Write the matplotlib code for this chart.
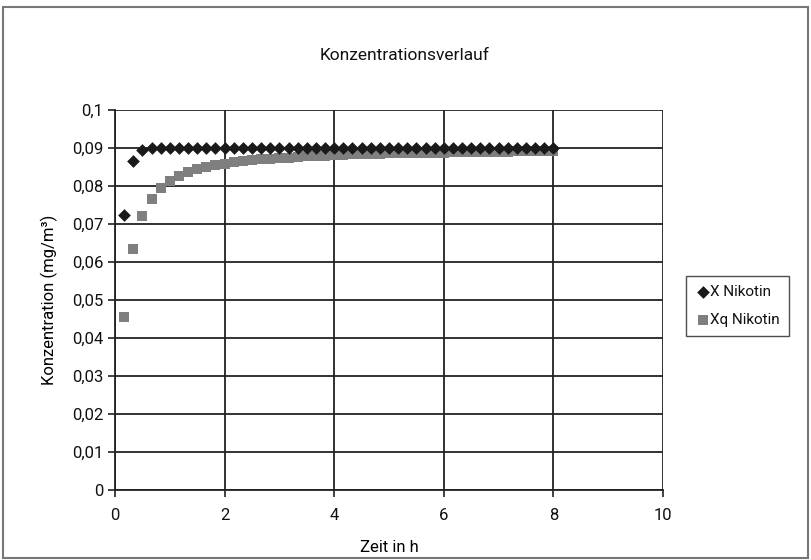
import matplotlib.pyplot as plt
from matplotlib.patches import Rectangle

# Zeitpunkte in h (alle 10 min bis 8 h)
zeit = [k / 6 for k in range(1, 49)]

# X Nikotin
x_nikotin = [0.0723, 0.0866, 0.0895, 0.0899] + [0.0900] * 44

# Xq Nikotin
xq_nikotin = [0.0455, 0.0634, 0.0722, 0.0766, 0.0794, 0.0813, 0.0826, 0.0836,
              0.0844, 0.0850, 0.0855, 0.0859, 0.0862, 0.0865, 0.0868, 0.0870,
              0.0872, 0.0874, 0.0875, 0.0877, 0.0878, 0.0879, 0.0880, 0.0881,
              0.0882, 0.0883, 0.0884, 0.0884, 0.0885, 0.0886, 0.0886, 0.0887,
              0.0887, 0.0888, 0.0888, 0.0888, 0.0889, 0.0889, 0.0889, 0.0890,
              0.0890, 0.0890, 0.0890, 0.0891, 0.0891, 0.0891, 0.0891, 0.0892]

y_ticks = [0, 0.01, 0.02, 0.03, 0.04, 0.05, 0.06, 0.07, 0.08, 0.09, 0.1]
y_labels = ['0', '0,01', '0,02', '0,03', '0,04', '0,05', '0,06', '0,07',
            '0,08', '0,09', '0,1']
x_ticks = [0, 2, 4, 6, 8, 10]

plt.rcParams['font.family'] = ['Roboto', 'DejaVu Sans']
plt.rcParams['text.color'] = '#111111'

fig = plt.figure(figsize=(8.12, 5.6), dpi=100)
W, H = 812, 560
ax = fig.add_axes([115 / W, 1 - 490 / H, (663 - 115) / W, (490 - 110) / H])

# outer chart border
fig.patches.append(Rectangle((3 / W, 2 / H), 805 / W, 551 / H,
                             transform=fig.transFigure, fill=False,
                             edgecolor='#777777', linewidth=1.5))

ax.scatter(zeit, x_nikotin, marker='D', s=42, color='#1a1a1a',
           label='X Nikotin', zorder=4, linewidths=0)
ax.scatter(zeit, xq_nikotin, marker='s', s=55, color='#7f7f80',
           label='Xq Nikotin', zorder=3, linewidths=0)

ax.set_xlim(0, 10)
ax.set_ylim(0, 0.1)
ax.set_xticks(x_ticks)
ax.set_yticks(y_ticks)
ax.set_yticklabels(y_labels)
ax.grid(True, color='#222222', linewidth=1.3)
ax.set_axisbelow(True)
for side in ['top', 'right']:
    ax.spines[side].set_visible(False)
for side in ['left', 'bottom']:
    ax.spines[side].set_color('#222222')
    ax.spines[side].set_linewidth(1.3)
ax.tick_params(axis='both', labelsize=12, length=5, width=1.2,
               color='#222222', labelcolor='#111111')
ax.tick_params(axis='x', pad=8)

ax.set_xlabel('Zeit in h', fontsize=12, labelpad=12)
ax.set_ylabel('Konzentration (mg/m³)', fontsize=12, labelpad=10)
fig.text(405 / W, 1 - 55 / H, 'Konzentrationsverlauf', fontsize=12.5,
         ha='center', va='center')

leg = ax.legend(loc='center left', bbox_to_anchor=(686 / W, 1 - 306 / H),
                bbox_transform=fig.transFigure, fontsize=11, frameon=True,
                fancybox=False, edgecolor='#222222', handletextpad=0.0,
                handlelength=1.0, borderpad=0.6, labelspacing=0.9,
                borderaxespad=0)
leg.get_frame().set_linewidth(1.0)

fig.savefig('out.png', dpi=100)
